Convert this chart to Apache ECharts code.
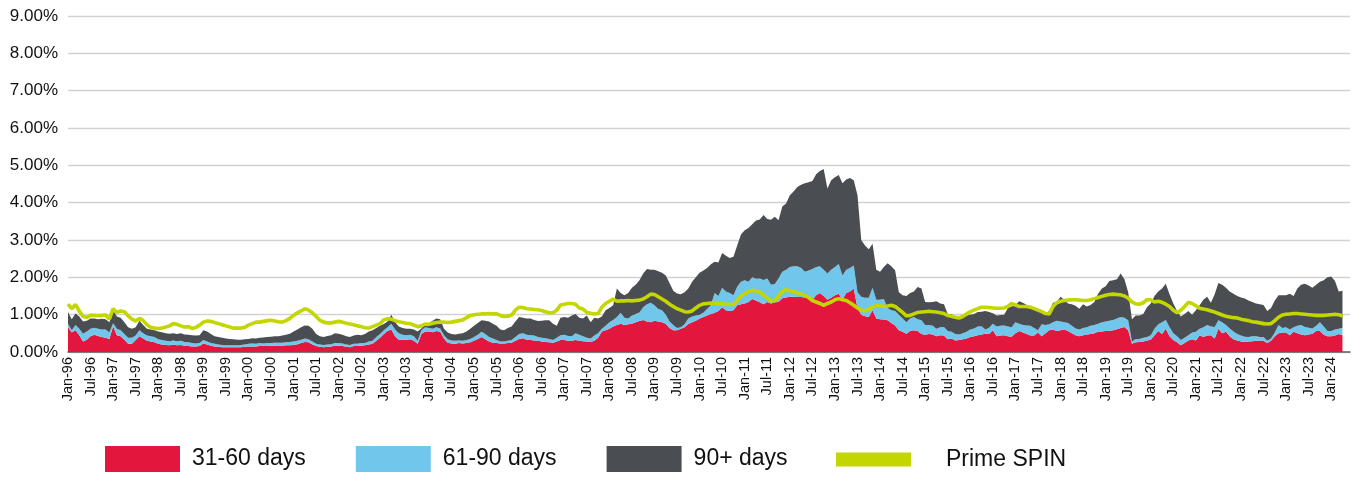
<!DOCTYPE html>
<html><head><meta charset="utf-8">
<script src="https://cdn.jsdelivr.net/npm/echarts@6/dist/echarts.min.js"></script>
<style>html,body{margin:0;padding:0;background:#fff}#c{width:1352px;height:477px}</style>
</head><body><div id="c"></div>
<script>
// Monthly values (%), Jan-96 .. Apr-24
const days31to60 = [
.67,.52,.58,.45,.28,.33,.42,.46,.43,.40,.38,.35,
.69,.45,.42,.33,.22,.22,.32,.42,.36,.30,.28,.26,
.22,.20,.19,.18,.20,.18,.19,.17,.16,.15,.15,.16,
.23,.20,.17,.15,.14,.13,.13,.13,.13,.13,.13,.14,
.15,.15,.15,.16,.16,.16,.17,.17,.16,.17,.18,.18,
.19,.21,.24,.27,.26,.20,.16,.14,.13,.14,.15,.17,
.17,.16,.14,.13,.16,.16,.17,.18,.20,.22,.30,.38,
.48,.56,.60,.42,.33,.33,.33,.34,.30,.22,.48,.55,
.55,.53,.56,.54,.36,.25,.23,.22,.24,.23,.24,.26,
.30,.35,.40,.34,.28,.25,.24,.23,.23,.24,.25,.30,
.35,.37,.33,.32,.31,.30,.28,.27,.26,.25,.28,.32,
.32,.30,.30,.32,.30,.29,.28,.27,.30,.38,.55,.58,
.62,.68,.72,.76,.72,.74,.76,.80,.83,.86,.82,.80,
.84,.82,.80,.76,.64,.58,.58,.62,.66,.75,.80,.84,
.90,.94,.98,1.02,1.05,1.10,1.20,1.12,1.10,1.12,1.25,1.28,
1.30,1.34,1.42,1.38,1.33,1.28,1.34,1.30,1.33,1.34,1.44,1.46,
1.48,1.48,1.47,1.47,1.46,1.44,1.40,1.52,1.58,1.50,1.40,1.45,
1.52,1.56,1.40,1.58,1.62,1.70,1.18,1.00,.96,.94,1.12,.90,
.88,.87,.85,.78,.71,.58,.54,.49,.56,.58,.56,.48,
.46,.48,.47,.42,.45,.44,.34,.36,.31,.32,.34,.36,
.40,.42,.45,.47,.49,.48,.58,.42,.44,.45,.42,.41,
.50,.56,.52,.48,.44,.44,.52,.42,.50,.58,.60,.56,
.58,.60,.56,.50,.45,.42,.45,.47,.48,.50,.54,.55,
.56,.57,.58,.61,.64,.67,.58,.22,.26,.27,.28,.31,
.33,.45,.56,.48,.62,.42,.32,.26,.18,.24,.31,.34,
.31,.45,.40,.44,.45,.36,.62,.50,.54,.42,.34,.31,
.28,.27,.28,.29,.30,.31,.30,.24,.30,.42,.50,.52,
.52,.45,.54,.50,.47,.45,.47,.49,.56,.56,.46,.42,
.42,.44,.48,.45
];
const days61to90 = [
.09,.06,.14,.17,.21,.22,.20,.19,.19,.20,.22,.17,
.08,.17,.16,.15,.16,.16,.12,.16,.14,.14,.14,.14,
.12,.12,.11,.11,.11,.11,.11,.10,.10,.09,.08,.08,
.09,.08,.07,.07,.06,.06,.05,.05,.05,.05,.06,.06,
.07,.08,.07,.08,.07,.08,.07,.08,.09,.08,.08,.09,
.09,.09,.09,.09,.08,.08,.06,.06,.06,.06,.06,.07,
.07,.07,.06,.06,.06,.06,.07,.06,.08,.08,.10,.10,
.10,.10,.16,.18,.17,.13,.12,.12,.12,.08,.10,.11,
.09,.09,.10,.09,.09,.09,.08,.08,.07,.07,.08,.09,
.10,.11,.14,.14,.12,.11,.08,.05,.05,.06,.07,.10,
.13,.13,.13,.13,.13,.10,.10,.10,.09,.07,.10,.13,
.14,.13,.12,.18,.16,.13,.10,.09,.14,.12,.07,.12,
.18,.18,.22,.29,.20,.16,.22,.22,.23,.34,.46,.52,
.41,.33,.32,.24,.18,.14,.06,.04,.08,.15,.15,.14,
.10,.11,.17,.23,.53,.40,.52,.50,.48,.40,.50,.60,
.62,.54,.58,.58,.64,.65,.63,.50,.49,.63,.71,.74,
.80,.82,.83,.78,.69,.74,.82,.76,.72,.70,.70,.75,
.76,.80,.65,.62,.63,.62,.42,.48,.49,.51,.60,.50,
.52,.55,.33,.34,.39,.42,.36,.31,.34,.36,.32,.37,
.26,.24,.23,.20,.21,.23,.22,.18,.17,.15,.16,.18,
.20,.21,.23,.22,.11,.17,.18,.26,.26,.26,.26,.25,
.30,.20,.20,.23,.26,.20,.06,.32,.22,.16,.20,.28,
.24,.20,.22,.20,.18,.18,.19,.19,.22,.22,.22,.25,
.26,.27,.28,.29,.30,.25,.27,.06,.09,.08,.10,.09,
.12,.17,.18,.32,.24,.24,.18,.16,.14,.14,.14,.18,
.23,.17,.26,.28,.23,.31,.23,.30,.18,.21,.21,.17,
.16,.14,.12,.13,.12,.09,.10,.06,.06,.10,.22,.12,
.14,.15,.12,.20,.25,.22,.18,.14,.14,.24,.22,.14,
.14,.16,.14,.20
];
const days90plus = [
.31,.30,.31,.33,.33,.29,.28,.25,.26,.29,.28,.28,
.35,.33,.34,.32,.28,.24,.22,.26,.22,.18,.18,.18,
.21,.21,.20,.20,.19,.19,.20,.20,.20,.21,.21,.21,
.26,.27,.24,.20,.20,.19,.18,.17,.16,.15,.14,.14,
.13,.14,.14,.14,.16,.16,.17,.17,.17,.19,.20,.22,
.27,.30,.33,.35,.36,.34,.26,.22,.21,.23,.24,.26,
.25,.23,.22,.21,.22,.24,.21,.24,.27,.28,.24,.22,
.17,.16,.24,.20,.18,.18,.17,.16,.18,.25,.05,.08,
.14,.22,.24,.25,.17,.18,.17,.17,.18,.20,.23,.27,
.30,.32,.31,.36,.42,.40,.38,.32,.30,.34,.36,.42,
.46,.42,.44,.45,.42,.43,.46,.48,.50,.44,.32,.47,
.48,.49,.56,.52,.46,.48,.60,.44,.48,.40,.33,.42,
.38,.39,.76,.53,.60,.68,.74,.78,.86,.90,.94,.88,
.95,1.01,1.00,1.05,1.03,.92,.93,.89,.86,.80,.93,1.02,
1.12,1.13,1.10,1.10,.84,.90,.93,.96,.94,1.03,1.10,1.27,
1.34,1.44,1.42,1.56,1.58,1.74,1.59,1.74,1.80,1.56,1.75,1.78,
1.92,2.00,2.12,2.23,2.37,2.37,2.36,2.48,2.55,2.70,2.28,2.40,
2.40,2.38,2.47,2.42,2.41,2.28,2.60,1.52,1.40,1.30,1.18,.80,
.75,.86,1.20,1.18,1.09,.60,.62,.70,.68,.68,.86,.85,
.62,.61,.64,.74,.64,.61,.46,.47,.46,.49,.47,.44,
.40,.39,.39,.39,.50,.42,.28,.30,.29,.29,.50,.56,
.45,.60,.60,.55,.52,.56,.58,.38,.32,.36,.52,.50,
.66,.60,.52,.58,.61,.56,.64,.56,.56,.62,.80,.90,
.94,1.06,1.06,1.05,1.16,1.03,.75,.60,.63,.63,.64,.80,
.85,.88,.88,.90,.97,.89,.80,.68,.63,.64,.65,.48,
.58,.63,.74,.76,.64,.88,1.00,1.00,1.00,.99,1.01,1.02,
1.02,1.02,.98,.92,.88,.88,.86,.80,.82,.86,.80,.88,
.86,.96,.84,1.00,1.08,1.16,1.13,1.09,1.10,1.08,1.24,1.44,
1.46,1.30,1.00,.99
];
const primeSpin = [
1.28,1.16,1.27,1.10,0.95,0.93,0.98,0.98,0.97,0.98,0.99,0.88,
1.16,1.06,1.10,1.08,0.97,0.88,0.83,0.90,0.84,0.73,0.66,0.64,
0.63,0.64,0.67,0.70,0.76,0.74,0.70,0.67,0.68,0.63,0.66,0.72,
0.80,0.83,0.82,0.79,0.76,0.73,0.70,0.67,0.64,0.64,0.64,0.66,
0.72,0.76,0.80,0.80,0.82,0.84,0.85,0.83,0.81,0.80,0.84,0.90,
0.98,1.05,1.10,1.16,1.12,1.05,0.95,0.85,0.80,0.78,0.78,0.80,
0.82,0.80,0.77,0.75,0.73,0.70,0.68,0.65,0.64,0.68,0.72,0.76,
0.86,0.89,0.88,0.84,0.81,0.79,0.77,0.76,0.72,0.68,0.70,0.75,
0.74,0.77,0.79,0.80,0.80,0.79,0.80,0.82,0.84,0.86,0.92,0.98,
1.00,1.01,1.02,1.02,1.03,1.02,1.02,0.98,0.95,0.96,0.99,1.12,
1.20,1.19,1.16,1.15,1.14,1.13,1.11,1.08,1.05,1.05,1.12,1.26,
1.28,1.30,1.30,1.28,1.18,1.15,1.06,1.04,1.02,1.03,1.20,1.30,
1.36,1.42,1.36,1.37,1.37,1.38,1.37,1.38,1.39,1.42,1.48,1.55,
1.54,1.48,1.42,1.36,1.28,1.22,1.16,1.12,1.08,1.07,1.10,1.18,
1.25,1.29,1.30,1.31,1.31,1.30,1.29,1.28,1.28,1.27,1.38,1.50,
1.56,1.62,1.65,1.64,1.60,1.52,1.45,1.36,1.38,1.50,1.62,1.67,
1.64,1.62,1.58,1.55,1.52,1.46,1.38,1.34,1.30,1.25,1.30,1.34,
1.40,1.43,1.40,1.38,1.32,1.25,1.18,1.12,1.10,1.14,1.21,1.24,
1.24,1.22,1.23,1.25,1.22,1.14,1.06,0.97,0.98,1.02,1.06,1.07,
1.08,1.09,1.08,1.07,1.05,1.03,0.98,0.96,0.93,0.91,0.95,1.02,
1.08,1.12,1.16,1.20,1.20,1.19,1.18,1.17,1.17,1.18,1.22,1.30,
1.26,1.22,1.22,1.22,1.20,1.16,1.12,1.08,1.03,1.02,1.22,1.32,
1.36,1.38,1.39,1.40,1.40,1.39,1.38,1.38,1.40,1.43,1.46,1.49,
1.52,1.54,1.55,1.54,1.53,1.50,1.44,1.34,1.29,1.28,1.32,1.40,
1.40,1.34,1.36,1.33,1.28,1.22,1.12,1.05,1.12,1.22,1.33,1.30,
1.24,1.17,1.15,1.13,1.10,1.07,1.03,0.99,0.96,0.94,0.92,0.91,
0.88,0.86,0.84,0.81,0.80,0.78,0.76,0.75,0.76,0.84,0.93,0.99,
1.01,1.02,1.03,1.03,1.02,1.01,1.00,0.99,0.98,0.98,0.98,0.99,
1.00,1.01,1.00,0.97
];
const seriesNames = ['31-60 days','61-90 days','90+ days','Prime SPIN'];
const monthNames = ['Jan','Feb','Mar','Apr','May','Jun','Jul','Aug','Sep','Oct','Nov','Dec'];
const firstYear = 1996, monthCount = 342; // axis runs Jan-96 .. Jun-24
const yMin = 0, yMax = 9, yStep = 1;

const categories = [];
for (let i = 0; i < monthCount; i++) {
  const yr = (firstYear + Math.floor(i / 12)) % 100;
  categories.push(monthNames[i % 12] + '-' + String(yr).padStart(2, '0'));
}

const FONT = "'Liberation Sans', Arial, sans-serif";
const colors = ['#E3173E', '#70C7EB', '#4A4D51', '#C4D600'];

const chart = echarts.init(document.getElementById('c'), null, {renderer: 'canvas'});
const areaSeries = (name, data, color) => ({
  name, type: 'line', stack: 'total', data, color,
  symbol: 'none', showSymbol: false,
  lineStyle: {width: 0, color},
  areaStyle: {color, opacity: 1},
  itemStyle: {color},
  emphasis: {disabled: true},
  animation: false
});
chart.setOption({
  animation: false,
  backgroundColor: '#fff',
  textStyle: {fontFamily: FONT},
  grid: {left: 68, right: 2, top: 16, bottom: 125, containLabel: false},
  legend: [{
    data: seriesNames.slice(0, 3).map(n => ({name: n, icon: 'rect'})),
    left: 105, top: 446, padding: 0, itemWidth: 75, itemHeight: 26, itemGap: 50,
    itemStyle: {borderWidth: 0},
    textStyle: {fontFamily: FONT, fontSize: 23, color: '#111', padding: [0, 0, 0, 7]},
    selectedMode: false
  }, {
    data: [{name: seriesNames[3], icon: 'rect'}],
    left: 836, top: 448, padding: 0, itemWidth: 75, itemHeight: 14,
    itemStyle: {borderWidth: 0},
    textStyle: {fontFamily: FONT, fontSize: 23, color: '#111', padding: [0, 0, 0, 30]},
    selectedMode: false
  }],
  xAxis: {
    type: 'category', data: categories, boundaryGap: false,
    axisLine: {show: true, lineStyle: {color: '#5f5f5f', width: 1.5}},
    axisTick: {show: false},
    splitLine: {show: false},
    axisLabel: {interval: 5, rotate: 90, margin: 5, fontSize: 14.5, color: '#111', fontFamily: FONT}
  },
  yAxis: {
    type: 'value', min: yMin, max: yMax, interval: yStep,
    axisLine: {show: false}, axisTick: {show: false},
    splitLine: {show: true, lineStyle: {color: '#d2d2d2', width: 1.3}},
    axisLabel: {margin: 10, fontSize: 17, color: '#111', fontFamily: FONT,
      padding: [0, 0, 6, 0],
      formatter: v => v.toFixed(2) + '%'}
  },
  series: [
    areaSeries(seriesNames[0], days31to60, colors[0]),
    areaSeries(seriesNames[1], days61to90, colors[1]),
    areaSeries(seriesNames[2], days90plus, colors[2]),
    {
      name: seriesNames[3], type: 'line', data: primeSpin, color: colors[3],
      symbol: 'none', showSymbol: false, z: 5,
      lineStyle: {width: 3.6, color: colors[3]},
      itemStyle: {color: colors[3]},
      emphasis: {disabled: true},
      animation: false
    }
  ]
});
</script>
</body></html>
